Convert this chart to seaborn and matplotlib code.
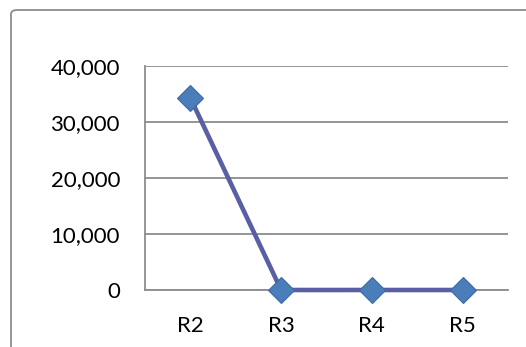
import numpy as np
import pandas as pd
import matplotlib
matplotlib.use('Agg')
import matplotlib.pyplot as plt
import seaborn as sns
from matplotlib.patches import FancyBboxPatch
from matplotlib.ticker import FuncFormatter, FixedLocator

# data
categories = ['R2', 'R3', 'R4', 'R5']
values = [34300, 0, 0, 0]
y_ticks = [0, 10000, 20000, 30000, 40000]

df = pd.DataFrame({'cat': categories, 'val': values})

sns.set_style('white')
plt.rcParams['font.family'] = ['Lato', 'DejaVu Sans']

W, H = 526, 347
fig = plt.figure(figsize=(W / 100, H / 100), dpi=100)

# outer chart frame (rounded, runs off the right/bottom edges)
frame = FancyBboxPatch((11 / W, -0.2), 1.2, 1 - 10 / H + 0.2,
                       boxstyle='round,pad=0,rounding_size=0.012',
                       transform=fig.transFigure, facecolor='none',
                       edgecolor='#8c8c8c', linewidth=1.3, zorder=-1)
fig.add_artist(frame)

ax = fig.add_axes([145 / W, 1 - 290 / H, (508 - 145) / W, (290 - 66) / H])
ax.set_facecolor('none')

sns.lineplot(data=df, x='cat', y='val', ax=ax, color='#5a5ea4', linewidth=3.3,
             marker='D', markersize=13, markerfacecolor='#4a7ebb',
             markeredgecolor='#3f68a6', markeredgewidth=0.8, zorder=5,
             clip_on=False)

ax.set_xlim(-0.5, len(categories) - 0.5)
ax.set_ylim(0, 40000)
ax.set_yticks(y_ticks)
ax.yaxis.set_major_formatter(FuncFormatter(lambda v, p: f'{int(v):,}'))
ax.grid(axis='y', color='#8c8c8c', linewidth=1.3)
ax.set_axisbelow(True)

# tick marks between categories, pointing up
ax.xaxis.set_minor_locator(FixedLocator(np.arange(0.5, len(categories), 1)))
ax.tick_params(axis='x', which='minor', direction='in', length=5, width=1, color='#8c8c8c')
ax.tick_params(axis='x', which='major', length=0, pad=19, labelsize=16, labelcolor='black')
ax.tick_params(axis='y', which='major', direction='out', length=3, width=1,
               color='#8c8c8c', pad=15, labelsize=16, labelcolor='black')

for side in ['top', 'right']:
    ax.spines[side].set_visible(False)
for side in ['left', 'bottom']:
    ax.spines[side].set_color('#8c8c8c')
    ax.spines[side].set_linewidth(1.3)

ax.set_xlabel('')
ax.set_ylabel('')

fig.savefig('out.png', dpi=100)
